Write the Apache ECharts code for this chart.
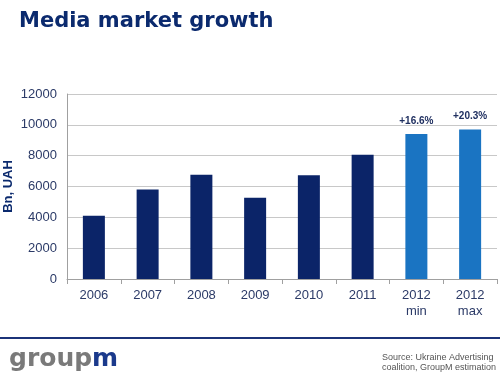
<!DOCTYPE html>
<html><head><meta charset="utf-8">
<script src="https://cdn.jsdelivr.net/npm/echarts@6/dist/echarts.min.js"></script>
<style>html,body{margin:0;padding:0;background:#fff}#c{width:500px;height:384px}</style>
</head><body><div id="c"></div>
<script>
const categories = ['2006','2007','2008','2009','2010','2011','2012\nmin','2012\nmax'];
const values = [4100, 5800, 6770, 5270, 6730, 8060, 9400, 9690];
const growthLabels = ['', '', '', '', '', '', '+16.6%', '+20.3%'];
const yTicks = [0, 2000, 4000, 6000, 8000, 10000, 12000];
const dark = '#0B2468', light = '#1A74C2';

const chart = echarts.init(document.getElementById('c'));
chart.setOption({
  animation: false,
  title: {
    text: 'Media market growth', left: 14, top: 6,
    textStyle: {fontFamily: 'DejaVu Sans', fontWeight: 'bold', fontSize: 21, color: '#0B2A6E'}
  },
  grid: {left: 67, right: 3, top: 94, bottom: 105, containLabel: false, outerBoundsMode: 'none'},
  xAxis: {
    type: 'category', data: categories,
    axisLine: {lineStyle: {color: '#A0A0A0'}},
    axisTick: {show: true, lineStyle: {color: '#A0A0A0'}},
    axisLabel: {color: '#2B3A67', fontFamily: 'Liberation Sans', fontSize: 13, lineHeight: 16, margin: 8}
  },
  yAxis: {
    type: 'value', min: yTicks[0], max: yTicks[yTicks.length-1], interval: 2000,
    name: 'Bn, UAH', nameLocation: 'middle', nameGap: 52, nameRotate: 90, nameMoveOverlap: false,
    nameTextStyle: {color: '#0B2A6E', fontWeight: 'bold', fontFamily: 'Liberation Sans', fontSize: 13},
    axisLine: {show: true, lineStyle: {color: '#A0A0A0'}},
    axisTick: {show: false},
    splitLine: {lineStyle: {color: '#C8C8C8'}},
    axisLabel: {color: '#2B3A67', fontFamily: 'Liberation Sans', fontSize: 13, margin: 10,
      formatter: v => String(v)}
  },
  series: [{
    type: 'bar', barWidth: 22,
    data: values.map((v, i) => ({value: v, itemStyle: {color: i >= 6 ? light : dark}})),
    label: {
      show: true, position: 'top', distance: 8,
      formatter: p => growthLabels[p.dataIndex],
      color: '#1F2F60', fontWeight: 'bold', fontFamily: 'Liberation Sans', fontSize: 10
    }
  }],
  graphic: [
    {type: 'rect', shape: {x: 0, y: 337, width: 500, height: 2}, style: {fill: '#1B3278'}},
    {type: 'text', left: 9, top: 347, style: {
      text: '{g|group}{m|m}',
      rich: {
        g: {fontFamily: 'DejaVu Sans', fontWeight: 'bold', fontSize: 25, fill: '#7A7A7A', color: '#7A7A7A'},
        m: {fontFamily: 'DejaVu Sans', fontWeight: 'bold', fontSize: 25, fill: '#1B3A8C', color: '#1B3A8C'}
      }}},
    {type: 'text', right: 4, top: 353, style: {text: 'Source: Ukraine Advertising\ncoalition, GroupM estimation', align: 'left', fontFamily: 'Liberation Sans', fontSize: 9, lineHeight: 10, fill: '#555'}}
  ]
});
</script></body></html>
